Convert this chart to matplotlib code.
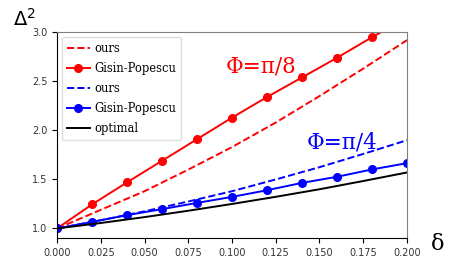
import matplotlib
matplotlib.use("Agg")
import matplotlib.pyplot as plt

# data
delta_gp = [0.0, 0.02, 0.04, 0.06, 0.08, 0.10, 0.12, 0.14, 0.16, 0.18, 0.20]
red_gp = [1.0, 1.245, 1.47, 1.69, 1.91, 2.13, 2.34, 2.54, 2.74, 2.95, 3.15]
blue_gp = [1.0, 1.067, 1.136, 1.197, 1.261, 1.322, 1.39, 1.465, 1.527, 1.602, 1.666]

delta_line = [0.0, 0.025, 0.05, 0.075, 0.10, 0.125, 0.15, 0.175, 0.20]
red_ours = [1.0, 1.19, 1.38, 1.60, 1.83, 2.08, 2.35, 2.63, 2.92]
blue_ours = [1.0, 1.084, 1.175, 1.275, 1.38, 1.50, 1.625, 1.76, 1.90]
optimal = [1.0, 1.056, 1.116, 1.181, 1.25, 1.323, 1.40, 1.484, 1.571]

xticks = [0.0, 0.025, 0.05, 0.075, 0.1, 0.125, 0.15, 0.175, 0.2]
yticks = [1.0, 1.5, 2.0, 2.5, 3.0]

serif = ["DejaVu Serif"]

fig = plt.figure(figsize=(4.52, 2.67), dpi=100)
ax = fig.add_axes([57/452, 1 - 238.3/267, 350/452, 206/267])

lw = 1.4
ms = 5.5
ax.plot(delta_line, red_ours, "--", color="red", lw=lw, label="ours")
ax.plot(delta_gp, red_gp, "-o", color="red", lw=lw, ms=ms, label="Gisin-Popescu")
ax.plot(delta_line, blue_ours, "--", color="blue", lw=lw, label="ours")
ax.plot(delta_gp, blue_gp, "-o", color="blue", lw=lw, ms=ms, label="Gisin-Popescu")
ax.plot(delta_line, optimal, "-", color="black", lw=lw, label="optimal")

ax.set_xlim(0, 0.2)
ax.set_ylim(0.9, 3.0)
ax.set_xticks(xticks)
ax.set_yticks(yticks)
ax.set_xticklabels([f"{t:.3f}" for t in xticks])
ax.set_yticklabels([f"{t:.1f}" for t in yticks])
ax.tick_params(labelsize=7, labelcolor="#333333", length=3.5, width=0.8)

for s in ["top", "right"]:
    ax.spines[s].set_color("#808080")
for s in ["left", "bottom"]:
    ax.spines[s].set_color("black")

leg = ax.legend(loc="upper left", prop={"family": serif, "size": 8.3},
                handlelength=2.0, handletextpad=0.35, labelspacing=0.6,
                borderaxespad=0.4, borderpad=0.45, framealpha=1,
                edgecolor="#dddddd", fancybox=True)

ax.text(0.1166, 2.65, "Φ=π/8", color="red", fontsize=15.5, family=serif,
        ha="center", va="center")
ax.text(0.163, 1.88, "Φ=π/4", color="blue", fontsize=15.5, family=serif,
        ha="center", va="center")

fig.text(24/452, 1 - 19/267, r"$\Delta^2$", fontsize=14, ha="center", va="center")
fig.text(438/452, 1 - 244/267, "δ", fontsize=16, family=serif, ha="center", va="center")

fig.savefig("out.png", dpi=100)
